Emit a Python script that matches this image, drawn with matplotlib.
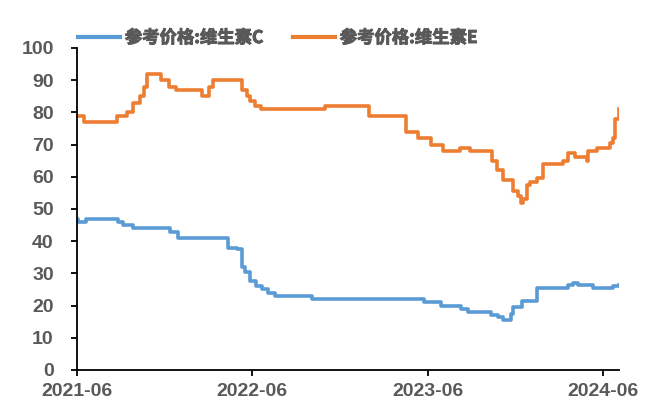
import pandas as pd
import matplotlib
matplotlib.use("Agg")
import matplotlib.pyplot as plt
import matplotlib.dates as mdates
import matplotlib.patheffects as pe

# 参考价格（元/公斤），价格变动日期及变动后价格
vc_dates = ["2021-06-01", "2021-06-04", "2021-06-20", "2021-08-26", "2021-09-05",
            "2021-09-26", "2021-12-12", "2021-12-29", "2022-04-12", "2022-05-01",
            "2022-05-11", "2022-05-17", "2022-05-28", "2022-06-09", "2022-06-22",
            "2022-07-04", "2022-07-19", "2022-10-04", "2023-05-25", "2023-06-30",
            "2023-08-10", "2023-08-24", "2023-10-11", "2023-10-26", "2023-11-05",
            "2023-11-22", "2023-11-26", "2023-12-15", "2024-01-15", "2024-03-19",
            "2024-03-30", "2024-04-09", "2024-05-10", "2024-06-21", "2024-07-04"]
vc_price = [47, 46, 47, 46, 45,
            44, 43, 41, 38, 37.5,
            32, 30.5, 27.5, 26, 25,
            24, 23, 22, 21, 20,
            19, 18, 17, 16.3, 15.5,
            17.5, 19.5, 21.5, 25.5, 26.5,
            27, 26.5, 25.5, 26, 26.5]

ve_dates = ["2021-06-01", "2021-06-16", "2021-08-24", "2021-09-14", "2021-09-26",
            "2021-10-11", "2021-10-19", "2021-10-25", "2021-11-23", "2021-12-10",
            "2021-12-25", "2022-02-17", "2022-03-03", "2022-03-12", "2022-05-11",
            "2022-05-21", "2022-05-28", "2022-06-07", "2022-06-20", "2022-10-31",
            "2023-01-31", "2023-04-17", "2023-05-12", "2023-06-08", "2023-07-03",
            "2023-08-08", "2023-08-29", "2023-10-13", "2023-10-24", "2023-11-05",
            "2023-11-26", "2023-12-06", "2023-12-13", "2023-12-17", "2023-12-25",
            "2023-12-31", "2024-01-15", "2024-01-27", "2024-03-09", "2024-03-19",
            "2024-04-03", "2024-04-28", "2024-04-30", "2024-05-19", "2024-06-15",
            "2024-06-21", "2024-06-25", "2024-07-04"]
ve_price = [79, 77, 79, 80, 83,
            85, 88, 92, 90, 88,
            87, 85, 88, 90, 87,
            85, 83.5, 82, 81, 82,
            79, 74, 72, 70, 68,
            69, 68, 65, 62, 59,
            55.5, 54, 52, 53, 57.5,
            58.5, 59.5, 64, 65, 67.5,
            66, 65, 68, 69, 70.5,
            72, 78, 81]

series_labels = ["参考价格:维生素C", "参考价格:维生素E"]
tick_dates = ["2021-06-01", "2022-06-01", "2023-06-01", "2024-06-01"]

gray = "#595959"
fig = plt.figure(figsize=(6.58, 4.04), dpi=100)
ax = fig.add_axes([0.1166, 0.0842, 0.8246, 0.797])

ax.plot(pd.to_datetime(vc_dates), vc_price, drawstyle="steps-post",
        color="#5B9BD5", lw=2.6, label=series_labels[0])
ax.plot(pd.to_datetime(ve_dates), ve_price, drawstyle="steps-post",
        color="#ED7D31", lw=2.6, label=series_labels[1])

ax.set_ylim(0, 100)
ax.set_yticks(range(0, 101, 10))
ax.set_xlim(pd.Timestamp(vc_dates[0]), pd.Timestamp(vc_dates[-1]))
ax.set_xticks(pd.to_datetime(tick_dates))
ax.xaxis.set_major_formatter(mdates.DateFormatter("%Y-%m"))

for s in ["top", "right"]:
    ax.spines[s].set_visible(False)
for s in ["left", "bottom"]:
    ax.spines[s].set_linewidth(1.3)
    ax.spines[s].set_color("black")
ax.tick_params(axis="both", direction="out", length=4.5, width=1.3,
               colors="black", labelcolor=gray)
ax.tick_params(axis="y", pad=12)
ax.tick_params(axis="x", pad=5)
for t in ax.get_xticklabels() + ax.get_yticklabels():
    t.set_fontfamily(["Liberation Sans", "DejaVu Sans"])
    t.set_fontweight("bold")
    t.set_fontsize(14)

leg = fig.legend(loc="center left", bbox_to_anchor=(0.1185, 0.906), ncol=2,
                 frameon=False, borderpad=0, borderaxespad=0,
                 handlelength=2.4, handletextpad=0.3, columnspacing=1.7,
                 prop={"family": ["Noto Sans CJK SC", "DejaVu Sans"],
                       "weight": "bold", "size": 12.5})
for t in leg.get_texts():
    t.set_color(gray)
    t.set_path_effects([pe.withStroke(linewidth=0.7, foreground=gray)])
for h in leg.get_lines():
    h.set_linewidth(3)

fig.savefig("out.png", dpi=100)
